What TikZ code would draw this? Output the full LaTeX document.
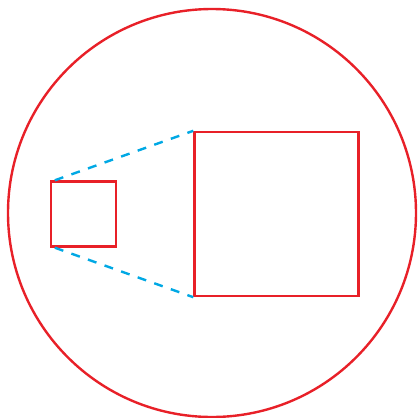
\documentclass[tikz,border=0pt]{standalone}
\begin{document}
\begin{tikzpicture}[x=1pt,y=-1pt,
  redline/.style={draw={rgb,255:red,232;green,32;blue,40},line width=2.4pt},
  sq/.style={redline,inner sep=0pt,rectangle},
  link/.style={draw={rgb,255:red,0;green,168;blue,228},line width=2.4pt,dash pattern=on 9pt off 8.6pt}]
\useasboundingbox (0,0) rectangle (418,418);
\node[redline,circle,minimum size=408pt,inner sep=0pt] (outer) at (212,213) {};
\node[sq,minimum width=65pt,minimum height=65pt] (small) at (83.5,214) {};
\node[sq,minimum width=164pt,minimum height=164pt] (big) at (276.5,214) {};
\draw[link] ([xshift=5pt]small.north west) -- (big.north west);
\draw[link] ([xshift=5pt]small.south west) -- (big.south west);
\end{tikzpicture}
\end{document}
